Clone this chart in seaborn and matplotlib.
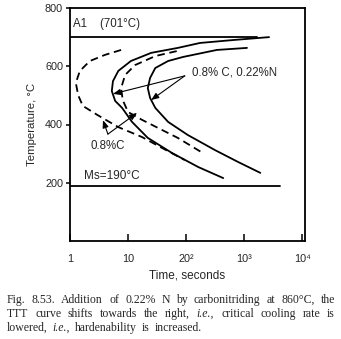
import numpy as np
import pandas as pd
import matplotlib
matplotlib.use("Agg")
import matplotlib.pyplot as plt
import seaborn as sns

# --- TTT curves (time in seconds, temperature in deg C) ---
# 0.8% C, 0.22% N : start of transformation
n_start_t = [2690, 646, 174, 72, 25.1, 11.2, 6.8, 5.5, 5.25, 6.0, 7.9, 11.7, 21.9, 57.5, 162, 437]
n_start_T = [700, 690, 680, 663, 646, 618, 584, 549, 515, 481, 457, 409, 354, 302, 254, 216]
# 0.8% C, 0.22% N : end of transformation
n_end_t = [1120, 339, 89, 49, 29.5, 24, 21.9, 24, 29.5, 49, 107, 316, 794, 1900]
n_end_T = [663, 656, 632, 618, 594, 560, 525, 491, 457, 409, 364, 312, 271, 234]
# 0.8% C : start of transformation
c_start_t = [7.6, 4.0, 2.2, 1.48, 1.26, 1.38, 1.66, 2.95, 6.8, 17.4, 38.9, 95]
c_start_T = [656, 639, 618, 584, 543, 501, 464, 433, 391, 357, 319, 278]
# 0.8% C : end of transformation
c_end_t = [69, 29.5, 13.2, 8.9, 7.6, 8.1, 10, 17.4, 33, 72, 195]
c_end_T = [652, 635, 604, 570, 525, 484, 443, 416, 388, 354, 302]

# critical temperatures
a1_temp = 701
ms_temp = 190
a1_t = [1, 1660]
ms_t = [1, 4170]

x_ticks = [1, 10, 100, 1000, 10000]
x_labels = ["1", "10", "20²", "10³", "10⁴"]
y_ticks = [200, 400, 600, 800]

caption_lines = [
    [("Fig. 8.53. Addition of 0.22% N by carbonitriding at 860°C, the", "normal")],
    [("TTT curve shifts towards the right,", "normal"), ("i.e.,", "italic"),
     ("critical cooling rate is", "normal")],
    [("lowered,", "normal"), ("i.e.,", "italic"), ("hardenability is increased.", "normal")],
]

sns.set_style("ticks")
plt.rcParams["font.family"] = ["Liberation Sans", "DejaVu Sans"]

W, H = 341, 339
fig = plt.figure(figsize=(W / 100, H / 100), dpi=100)
ax = fig.add_axes([70 / W, 1 - 241 / H, 235 / W, 233 / H])

solid = dict(color="black", lw=1.3, sort=False, estimator=None, ax=ax)
dashed = dict(color="black", lw=1.3, sort=False, estimator=None, ax=ax,
              linestyle=(0, (4.2, 2.6)))

sns.lineplot(x=n_start_t, y=n_start_T, **solid)
sns.lineplot(x=n_end_t, y=n_end_T, **solid)
sns.lineplot(x=c_start_t, y=c_start_T, **dashed)
sns.lineplot(x=c_end_t, y=c_end_T, **dashed)
sns.lineplot(x=a1_t, y=[a1_temp, a1_temp], **solid)
sns.lineplot(x=ms_t, y=[ms_temp, ms_temp], **solid)

ax.set_xscale("log")
ax.set_xlim(1, 11200)
ax.set_ylim(0, 800)
ax.set_xticks(x_ticks)
ax.set_xticklabels(x_labels)
ax.minorticks_off()
ax.set_yticks(y_ticks)
ax.set_yticklabels([str(v) for v in y_ticks])
ax.tick_params(axis="x", direction="in", length=5, width=1.3, pad=9, labelsize=7.8)
ax.tick_params(axis="y", direction="out", length=3, width=1.3, pad=2, labelsize=7.8)
for s in ax.spines.values():
    s.set_linewidth(1.3)
    s.set_color("black")

ax.set_xlabel("Time, seconds", fontsize=8.5, labelpad=4)
ax.set_ylabel("Temperature, °C", fontsize=8.2, labelpad=6)

ax.text(1.12, 745, "A1    (701°C)", fontsize=8.3, va="center", ha="left")
ax.text(1.74, 223, "Ms=190°C", fontsize=8.5, va="center", ha="left")
ax.text(126, 580, "0.8% C, 0.22%N", fontsize=8.3, va="center", ha="left")
ax.text(4.5, 326, "0.8%C", fontsize=8.3, va="center", ha="center")

arrow = dict(arrowstyle="-|>,head_length=0.45,head_width=0.18", color="black",
             lw=0.8, shrinkA=0, shrinkB=0)
for head in [(5.5, 505), (25, 484)]:
    ax.annotate("", xy=head, xytext=(95, 567), arrowprops=arrow)
for head in [(3.7, 415), (14.3, 440)]:
    ax.annotate("", xy=head, xytext=(4.5, 367), arrowprops=arrow)

# justified caption below the chart
renderer = fig.canvas.get_renderer()
x0, x1 = 7, 335
line_y = [300, 314, 328]
for i, (pieces, ypix) in enumerate(zip(caption_lines, line_y)):
    words = []
    for txt, style in pieces:
        for w in txt.split(" "):
            words.append((w, style))
    texts = []
    for w, style in words:
        t = fig.text(0, 1 - ypix / H, w, fontsize=8.5, style=style,
                     family=["Liberation Serif", "DejaVu Serif"], va="center", ha="left")
        texts.append(t)
    widths = [t.get_window_extent(renderer).width for t in texts]
    last = i == len(caption_lines) - 1
    if last:
        gap = 5.0
    else:
        gap = (x1 - x0 - sum(widths)) / (len(words) - 1)
    xp = x0
    for t, wdt in zip(texts, widths):
        t.set_x(xp / W)
        xp += wdt + gap

fig.savefig("out.png", dpi=100)
